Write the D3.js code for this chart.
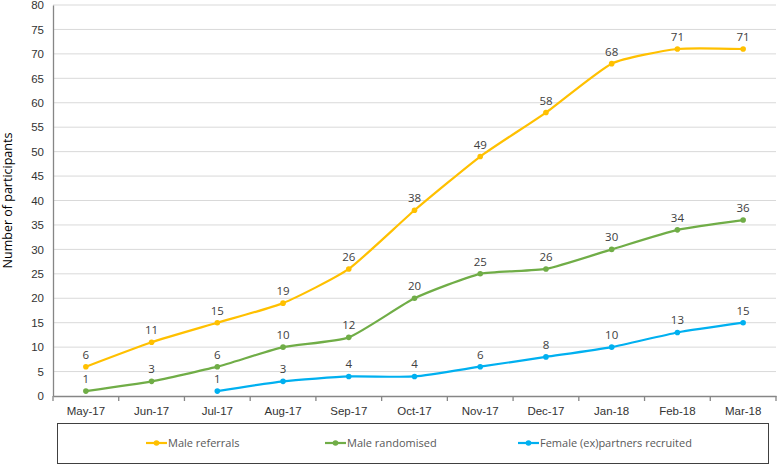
<!DOCTYPE html>
<html>
<head>
<meta charset="utf-8">
<script src="https://cdn.jsdelivr.net/npm/d3@7"></script>
<style>
  body { margin: 0; background: #fff; }
  svg { font-family: "Open Sans", "Noto Sans", sans-serif; }
</style>
</head>
<body>
<div id="vis"></div>
<script>
const WIDTH = 777;
const HEIGHT = 466;
const MARGIN = {left: 53, right: 1, top: 5, bottom: 70};

const months = ["May-17", "Jun-17", "Jul-17", "Aug-17", "Sep-17", "Oct-17",
                "Nov-17", "Dec-17", "Jan-18", "Feb-18", "Mar-18"];
const maleReferrals = [6, 11, 15, 19, 26, 38, 49, 58, 68, 71, 71];
const maleRandomised = [1, 3, 6, 10, 12, 20, 25, 26, 30, 34, 36];
// female recruitment starts in Jul-17
const femaleRecruited = [null, null, 1, 3, 4, 4, 6, 8, 10, 13, 15];
const yTicks = [0, 5, 10, 15, 20, 25, 30, 35, 40, 45, 50, 55, 60, 65, 70, 75, 80];

const series = [
  {name: "Male referrals", values: maleReferrals, color: "#FFC000", lx: 146},
  {name: "Male randomised", values: maleRandomised, color: "#70AD47", lx: 325},
  {name: "Female (ex)partners recruited", values: femaleRecruited, color: "#00B0F0", lx: 518}
];

const svg = d3.select("#vis")
  .append("svg")
    .attr("width", WIDTH)
    .attr("height", HEIGHT);

const X_SCALE = d3.scaleBand()
  .domain(months)
  .range([MARGIN.left, WIDTH - MARGIN.right]);

const Y_SCALE = d3.scaleLinear()
  .domain([0, 80])
  .range([HEIGHT - MARGIN.bottom, MARGIN.top]);

// gridlines
svg.append("g")
  .selectAll("line")
  .data(yTicks.slice(1))
  .enter()
  .append("line")
    .attr("x1", MARGIN.left)
    .attr("x2", WIDTH - MARGIN.right)
    .attr("y1", d => Y_SCALE(d))
    .attr("y2", d => Y_SCALE(d))
    .attr("stroke", "#d9d9d9")
    .attr("stroke-width", 1);

// y axis
const yAxis = svg.append("g")
  .attr("transform", "translate(" + MARGIN.left + ",0)")
  .call(d3.axisLeft(Y_SCALE).tickValues(yTicks).tickSize(0).tickPadding(9));
yAxis.select(".domain").attr("stroke", "#868686").attr("stroke-width", 1.3);
yAxis.selectAll("text").attr("font-size", "11.5px").attr("fill", "#333");

// x axis
const xAxis = svg.append("g")
  .attr("transform", "translate(0," + Y_SCALE(0) + ")")
  .call(d3.axisBottom(X_SCALE).tickSize(0).tickPadding(11));
xAxis.select(".domain").attr("stroke", "#868686").attr("stroke-width", 1.3);
xAxis.selectAll("text").attr("font-size", "11.5px").attr("fill", "#333");
// tick marks between categories
xAxis.selectAll(".sep")
  .data(months.concat(["end"]))
  .enter()
  .append("line")
    .attr("class", "sep")
    .attr("x1", (d, i) => MARGIN.left + i * X_SCALE.step())
    .attr("x2", (d, i) => MARGIN.left + i * X_SCALE.step())
    .attr("y1", 0)
    .attr("y2", 5)
    .attr("stroke", "#868686")
    .attr("stroke-width", 1.3);

// y axis title
svg.append("text")
  .attr("transform", "translate(12," + ((MARGIN.top + Y_SCALE(0)) / 2) + ") rotate(-90)")
  .attr("text-anchor", "middle")
  .attr("font-size", "12.5px")
  .attr("fill", "#000")
  .text("Number of participants");

const xPos = (d, i) => X_SCALE(months[i]) + X_SCALE.bandwidth() / 2;

// light smoothing, like the original spreadsheet lines
const line = d3.line()
  .defined(d => d !== null)
  .x(xPos)
  .y(d => Y_SCALE(d))
  .curve(d3.curveCardinal.tension(0.45));

series.forEach(s => {
  const g = svg.append("g");
  g.append("path")
    .datum(s.values)
    .attr("fill", "none")
    .attr("stroke", s.color)
    .attr("stroke-width", 2.2)
    .attr("d", line);

  const pts = s.values.map((v, i) => ({v: v, i: i})).filter(p => p.v !== null);

  g.selectAll("circle")
    .data(pts)
    .enter()
    .append("circle")
      .attr("cx", p => xPos(p.v, p.i))
      .attr("cy", p => Y_SCALE(p.v))
      .attr("r", 2.8)
      .attr("fill", s.color);

  g.selectAll("text")
    .data(pts)
    .enter()
    .append("text")
      .attr("x", p => xPos(p.v, p.i))
      .attr("y", p => Y_SCALE(p.v) - 8)
      .attr("text-anchor", "middle")
      .attr("font-size", "11.5px")
      .attr("fill", "#404040")
      .text(p => p.v);
});

// legend
svg.append("rect")
  .attr("x", 57.5)
  .attr("y", 423.5)
  .attr("width", 711)
  .attr("height", 40)
  .attr("fill", "none")
  .attr("stroke", "#404040")
  .attr("stroke-width", 1);

const legend = svg.append("g");
series.forEach(s => {
  legend.append("line")
    .attr("x1", s.lx)
    .attr("x2", s.lx + 21)
    .attr("y1", 443)
    .attr("y2", 443)
    .attr("stroke", s.color)
    .attr("stroke-width", 2.2);
  legend.append("circle")
    .attr("cx", s.lx + 10.5)
    .attr("cy", 443)
    .attr("r", 2.8)
    .attr("fill", s.color);
  legend.append("text")
    .attr("x", s.lx + 22)
    .attr("y", 443)
    .attr("dy", "0.35em")
    .attr("font-size", "11px")
    .attr("fill", "#595959")
    .text(s.name);
});
</script>
</body>
</html>
